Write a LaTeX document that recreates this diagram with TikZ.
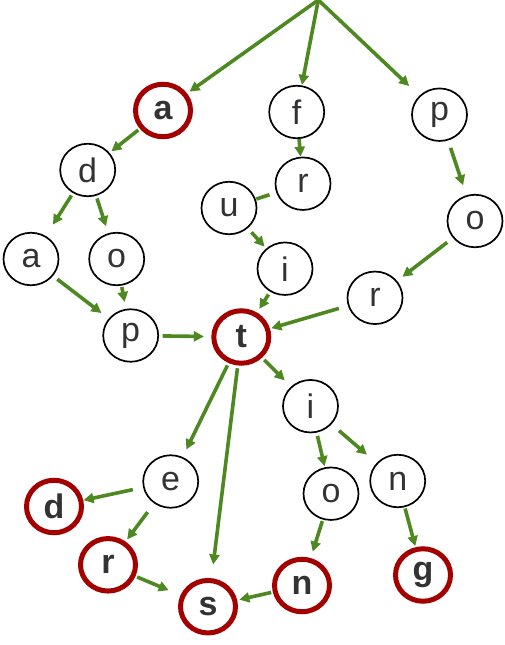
\documentclass[tikz,border=0pt]{standalone}
\usepackage{fontspec}
\setmainfont{Liberation Sans}
\usetikzlibrary{arrows.meta,shapes.geometric}
\definecolor{edgegreen}{RGB}{77,137,32}
\definecolor{nodered}{RGB}{163,0,0}
\definecolor{txtgray}{RGB}{51,51,51}
\newcommand{\lettersize}{\fontsize{34}{36}\selectfont}
\begin{document}
\begin{tikzpicture}[x=1pt,y=-1pt,
  letter/.style={ellipse, draw=black, line width=1.7pt, fill=white,
    minimum width=55pt, minimum height=52.5pt, inner sep=0pt,
    text=txtgray, font=\lettersize},
  goal/.style={letter, draw=nodered, line width=5pt,
    font=\lettersize\bfseries},
  link/.style={draw=edgegreen, line width=3.6pt,
    -{Triangle[length=10pt,width=10pt]}},
  plainlink/.style={draw=edgegreen, line width=3.6pt},
]
\useasboundingbox (0,0) rectangle (504,645);

\coordinate (root) at (318.3,0);

\node[goal]   (A1) at (163,110.5) {a};
\node[letter] (F)  at (296.7,112) {f};
\node[letter] (P1) at (439.5,114.7) {p};
\node[letter] (D1) at (87.7,170) {d};
\node[letter] (R1) at (303,183.7) {r};
\node[letter] (U)  at (229,208) {u};
\node[letter] (O1) at (475,221) {o};
\node[letter] (A2) at (31,259) {a};
\node[letter] (O2) at (116.7,259) {o};
\node[letter] (I1) at (285,268.7) {i};
\node[letter] (R2) at (375,297.8) {r};
\node[letter] (P2) at (130.7,335.5) {p};
\node[goal]   (T)  at (241.3,337) {t};
\node[letter] (I2) at (310.5,406.2) {i};
\node[letter] (E)  at (170.7,481.5) {e};
\node[letter] (O3) at (331,493.7) {o};
\node[letter] (N1) at (397.7,481) {n};
\node[goal]   (D2) at (54,506.5) {d};
\node[goal]   (R3) at (108,564.8) {r};
\node[goal]   (N2) at (302,585.5) {n};
\node[goal]   (G)  at (423,575) {g};
\node[goal]   (S)  at (208,606.7) {s};

\draw[link, shorten >=3pt] (root) -- (A1);
\draw[link, shorten >=0.5pt] (root) -- (F);
\draw[link, shorten >=14pt] (root) -- (P1);

\draw[link, shorten <=2pt, shorten >=2.3pt] (A1) -- (D1);
\draw[link] (F) -- (R1);
\draw[plainlink, shorten <=7pt, shorten >=0.5pt] (R1) -- (U);
\draw[link, shorten <=5.4pt, shorten >=2.5pt] (U) -- (I1);
\draw[link, shorten <=7.7pt, shorten >=10.4pt] (P1) -- (O1);
\draw[link, shorten <=2.8pt, shorten >=13.3pt] (D1) -- (A2);
\draw[link, shorten <=2.7pt, shorten >=7.2pt] (D1) -- (O2);
\draw[link, shorten <=5.3pt, shorten >=9pt] (A2) -- (P2);
\draw[link, shorten <=1.3pt, shorten >=7pt] (O2) -- (P2);
\draw[link, shorten <=3.5pt, shorten >=7.4pt] (P2) -- (T);
\draw[link, shorten <=3.2pt, shorten >=4.3pt] (I1) -- (T);
\draw[link, shorten <=7.2pt, shorten >=6.6pt] (O1) -- (R2);
\draw[link, shorten <=9.4pt, shorten >=1.4pt] (R2) -- (T);
\draw[link, shorten <=2.6pt, shorten >=8.3pt] (T) -- (E);
\draw[link, shorten <=2.7pt, shorten >=13.8pt] (T) -- (S);
\draw[link, shorten <=3pt, shorten >=8.8pt] (T) -- (I2);
\draw[link, shorten <=3.3pt, shorten >=1.1pt] (I2) -- (O3);
\draw[link, shorten <=9.8pt, shorten >=12.7pt] (I2) -- (N1);
\draw[link, shorten <=10.4pt, shorten >=0.3pt] (E) -- (D2);
\draw[link, shorten <=10.8pt, shorten >=2.7pt] (E) -- (R3);
\draw[link, shorten <=1.8pt, shorten >=12.8pt] (R3) -- (S);
\draw[link, shorten <=1.5pt, shorten >=6.7pt] (O3) -- (N2);
\draw[link, shorten <=1.3pt, shorten >=1.1pt] (N1) -- (G);
\draw[link, shorten <=1.6pt, shorten >=2.2pt] (N2) -- (S);
\end{tikzpicture}
\end{document}
